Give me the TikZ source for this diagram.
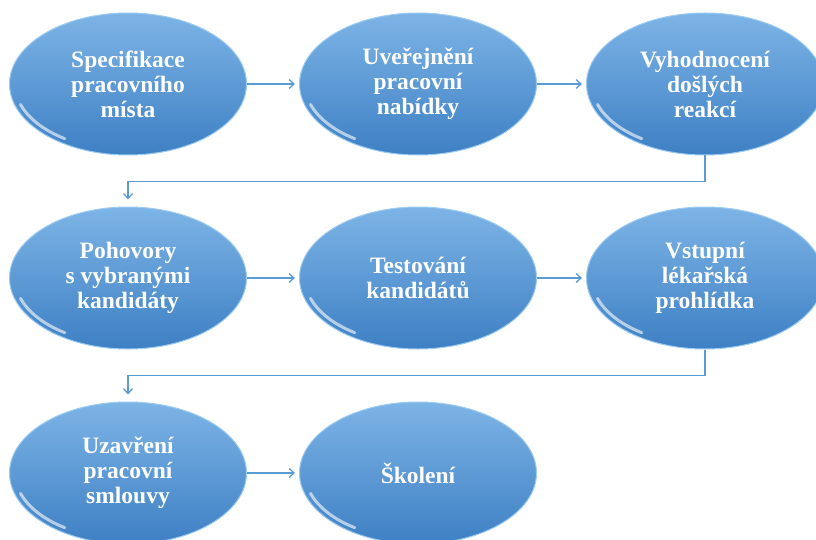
\documentclass[tikz,border=0pt]{standalone}
\usepackage{fontspec}
\setmainfont{Liberation Serif}
\usetikzlibrary{shapes.geometric,arrows.meta,positioning,calc}
\definecolor{stagetop}{HTML}{7DB4E6}
\definecolor{stagebot}{HTML}{3E80C4}
\definecolor{stagerim}{HTML}{9CCBF2}
\definecolor{linkblue}{HTML}{5B9BD5}

\begin{document}
\begin{tikzpicture}[x=1pt, y=-1pt,
  stage/.style={ellipse, minimum width=237pt, minimum height=142pt, inner sep=0pt,
    top color=stagetop, bottom color=stagebot, draw=stagerim, line width=1pt,
    align=center, text=white, font=\fontsize{23.5}{25}\selectfont\bfseries,
    path picture={\draw[white, opacity=0.6, line width=3pt, line cap=round]
      ([shift={(198:113pt and 66pt)}]path picture bounding box.center)
      arc [start angle=198, end angle=236, x radius=113pt, y radius=66pt];}},
  arr/.style={-{Straight Barb[length=5pt, width=9pt]}, linkblue, line width=1.3pt}
]
  \useasboundingbox (0,0) rectangle (816,540);

  % first row
  \node[stage] (spec) at (128,84) {Specifikace\\pracovního\\místa};
  \node[stage] (zver) at (418,84) {Uveřejnění\\pracovní\\nabídky};
  \node[stage] (vyhod) at (705,84) {Vyhodnocení\\došlých\\reakcí};
  % second row
  \node[stage] (pohov) at (128,278) {Pohovory\\s vybranými\\kandidáty};
  \node[stage] (test) at (418,278) {Testování\\kandidátů};
  \node[stage] (prohl) at (705,278) {Vstupní\\lékařská\\prohlídka};
  % third row
  \node[stage] (smlouva) at (128,473) {Uzavření\\pracovní\\smlouvy};
  \node[stage] (skol) at (418,473) {Školení};

  \draw[arr, shorten >=4pt] (spec) -- (zver);
  \draw[arr, shorten >=4pt] (zver) -- (vyhod);
  \draw[arr, shorten >=7pt] (vyhod.south) -- ++(0,26) -| (pohov.north);
  \draw[arr, shorten >=4pt] (pohov) -- (test);
  \draw[arr, shorten >=4pt] (test) -- (prohl);
  \draw[arr, shorten >=7pt] (prohl.south) -- ++(0,26) -| (smlouva.north);
  \draw[arr, shorten >=4pt] (smlouva) -- (skol);
\end{tikzpicture}
\end{document}
